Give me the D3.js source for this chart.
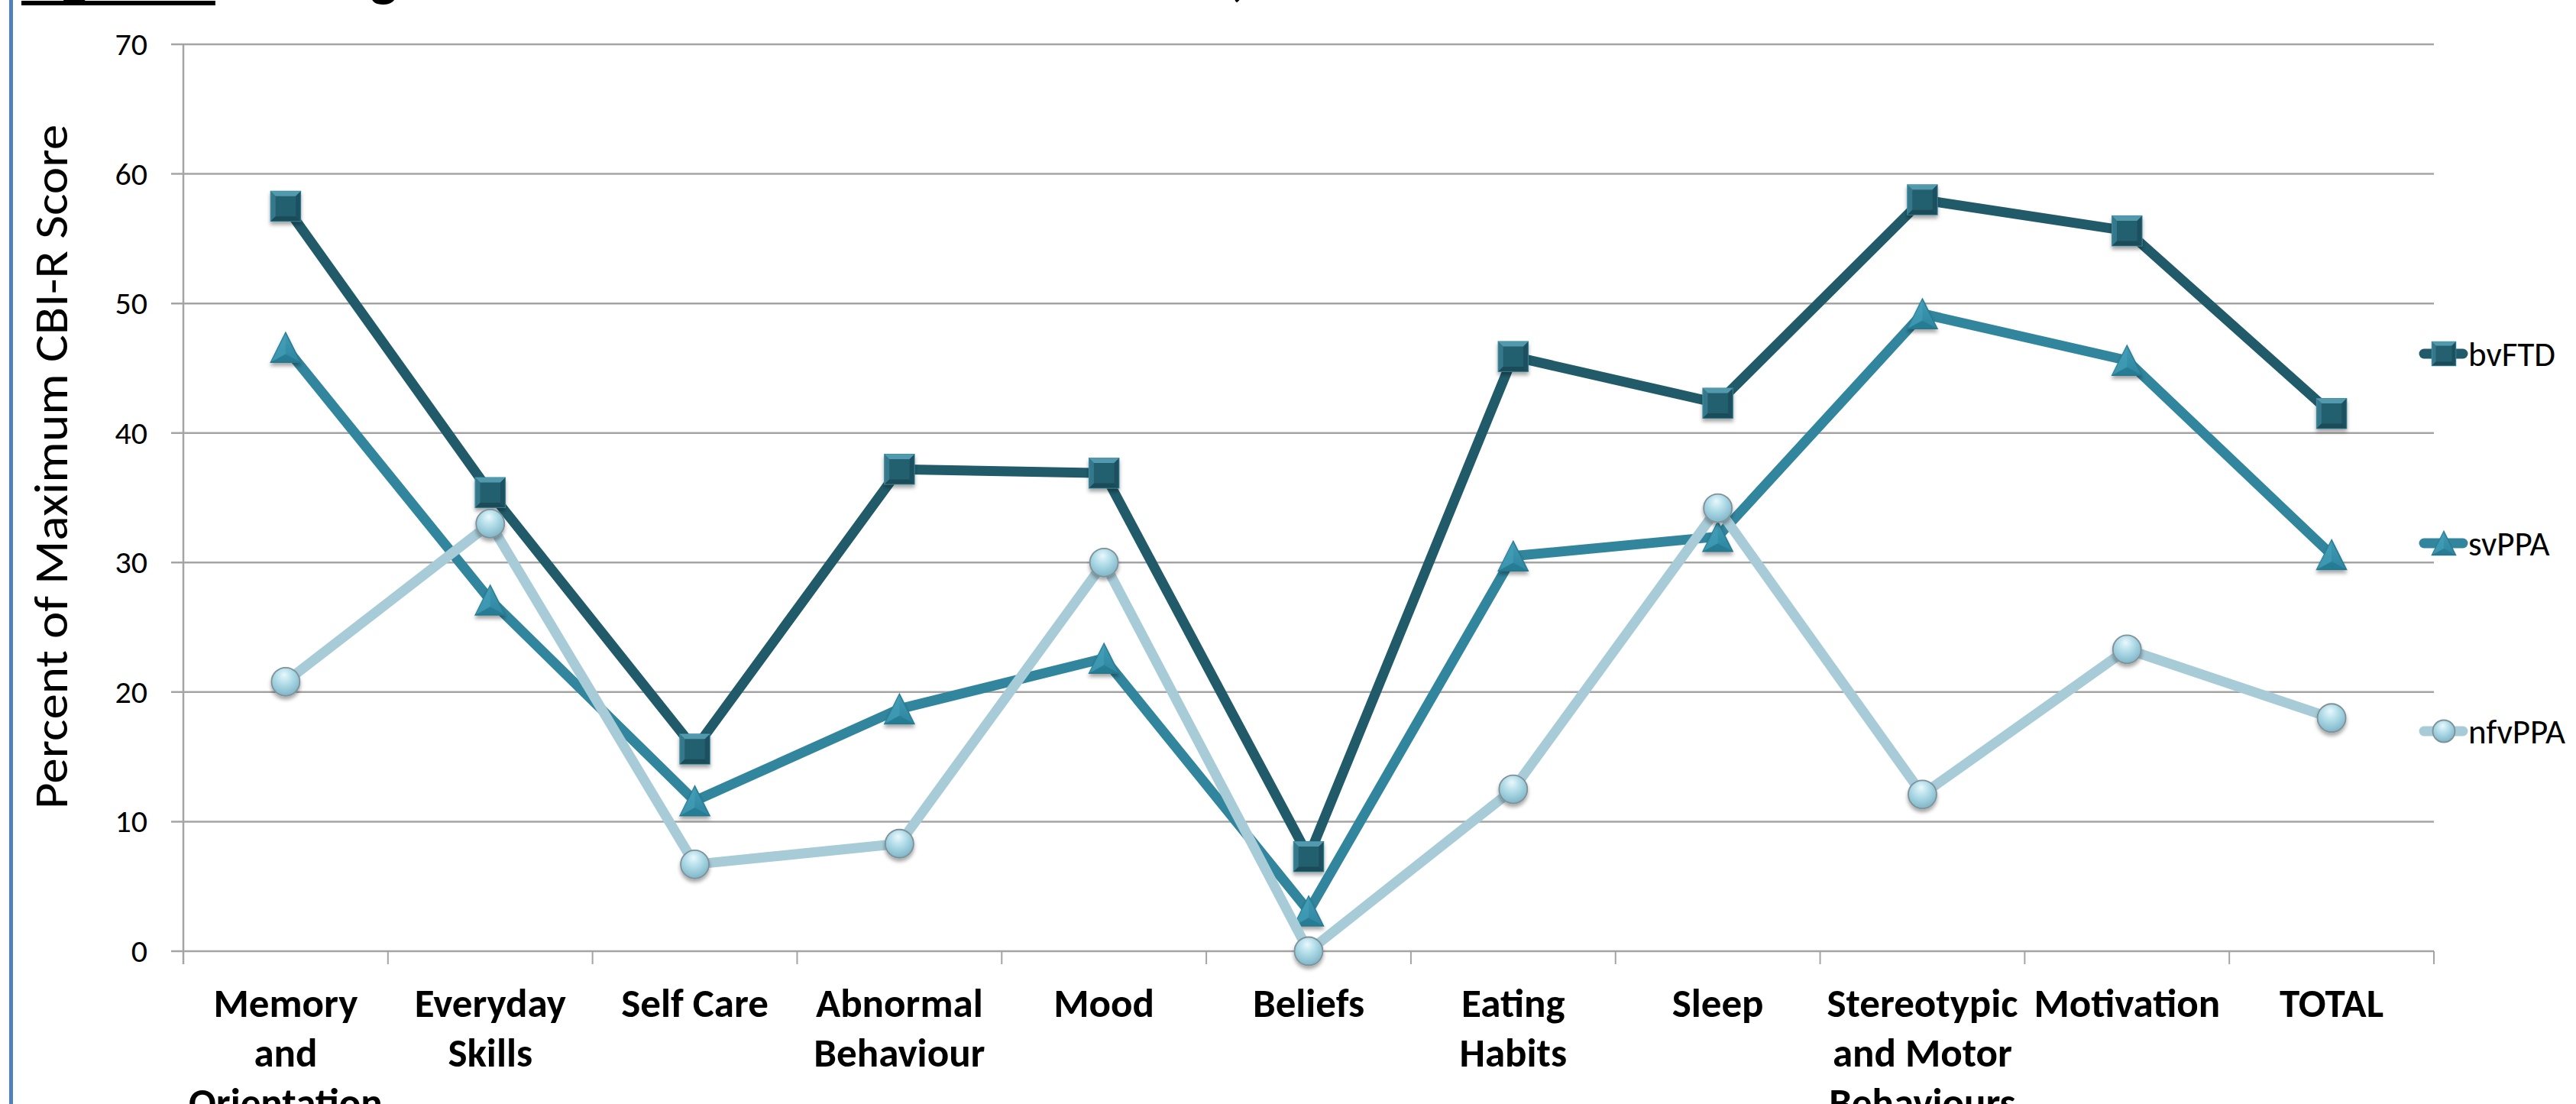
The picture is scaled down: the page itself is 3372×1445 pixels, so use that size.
<!DOCTYPE html>
<html>
<head>
<meta charset="utf-8">
<script src="https://cdn.jsdelivr.net/npm/d3@7"></script>
<style>
  html, body { margin: 0; padding: 0; background: #ffffff; }
  svg { display: block; }
  text { font-family: Carlito, Calibri, Lato, "Noto Sans", sans-serif; fill: #000; }
</style>
</head>
<body>
<svg id="chart" width="3372" height="1445"></svg>
<script>
// CBI-R domains and the percent of the maximum score reached by each group
const categories = [
  "Memory and Orientation", "Everyday Skills", "Self Care", "Abnormal Behaviour",
  "Mood", "Beliefs", "Eating Habits", "Sleep",
  "Stereotypic and Motor Behaviours", "Motivation", "TOTAL"
];
const categoryLines = [
  ["Memory", "and", "Orientation"], ["Everyday", "Skills"], ["Self Care"],
  ["Abnormal", "Behaviour"], ["Mood"], ["Beliefs"], ["Eating", "Habits"],
  ["Sleep"], ["Stereotypic", "and Motor", "Behaviours"], ["Motivation"], ["TOTAL"]
];
const seriesNames = ["bvFTD", "svPPA", "nfvPPA"];
const bvFTD  = [57.5, 35.4, 15.6, 37.2, 36.9, 7.3, 45.9, 42.3, 58.0, 55.6, 41.5];
const svPPA  = [46.6, 27.1, 11.6, 18.7, 22.6, 3.1, 30.5, 32.0, 49.2, 45.6, 30.6];
const nfvPPA = [20.8, 33.0, 6.7, 8.3, 30.0, 0.0, 12.5, 34.2, 12.1, 23.3, 18.0];
const yTicks = [0, 10, 20, 30, 40, 50, 60, 70];
const titleLead = "Figure 1";
const titleRest = ": Average Percent of Maximum CBI-R Scores, Each Domain";
const yTitle = "Percent of Maximum CBI-R Score";

const seriesValues = [bvFTD, svPPA, nfvPPA];
const seriesStyle = [
  { line: "#215B6A", marker: "square" },
  { line: "#31869D", marker: "triangle" },
  { line: "#A7CCD8", marker: "circle" }
];

const svg = d3.select("#chart");
const defs = svg.append("defs");

// soft shadow under each marker
const shadow = defs.append("filter").attr("id", "mshadow")
  .attr("x", "-50%").attr("y", "-50%").attr("width", "200%").attr("height", "200%");
shadow.append("feDropShadow").attr("dx", 0).attr("dy", 4).attr("stdDeviation", 2.5)
  .attr("flood-color", "#000").attr("flood-opacity", 0.35);

// glossy sphere for the circle marker
const sphere = defs.append("radialGradient").attr("id", "sphere")
  .attr("cx", "45%").attr("cy", "35%").attr("r", "65%").attr("fx", "45%").attr("fy", "25%");
sphere.append("stop").attr("offset", "0%").attr("stop-color", "#eaf8fc");
sphere.append("stop").attr("offset", "45%").attr("stop-color", "#b2dde9");
sphere.append("stop").attr("offset", "100%").attr("stop-color", "#7fb6c8");

const triGrad = defs.append("linearGradient").attr("id", "triGrad")
  .attr("x1", 0).attr("y1", 0).attr("x2", 0).attr("y2", 1);
triGrad.append("stop").attr("offset", "0%").attr("stop-color", "#3f9ab3");
triGrad.append("stop").attr("offset", "100%").attr("stop-color", "#2e86a0");

// plot frame
const plotLeft = 240, plotRight = 3186, plotTop = 58, plotBottom = 1245;

const x = d3.scaleBand().domain(categories).range([plotLeft, plotRight]).padding(0);
const y = d3.scaleLinear().domain([0, 70]).range([plotBottom, plotTop]);
const cx = c => x(c) + x.bandwidth() / 2;

// left page border
svg.append("rect").attr("x", 12).attr("y", 0).attr("width", 5).attr("height", 1445).attr("fill", "#4F81BD");

// title (runs off the top edge of the page)
const title = svg.append("text").attr("x", 28).attr("y", -7)
  .attr("font-size", 74).attr("font-weight", 700);
const lead = title.append("tspan").text(titleLead);
title.append("tspan").text(titleRest);
const leadLen = lead.node().getComputedTextLength();
svg.append("rect").attr("x", 28).attr("y", 1).attr("width", leadLen + 10).attr("height", 6).attr("fill", "#000");

// horizontal gridlines
svg.append("g").selectAll("line").data(yTicks).join("line")
  .attr("x1", plotLeft - 16).attr("x2", plotRight)
  .attr("y1", d => y(d)).attr("y2", d => y(d))
  .attr("stroke", "#a4a4a4").attr("stroke-width", 2.5);

// y axis labels
const yAxis = svg.append("g").attr("transform", `translate(${plotLeft},0)`)
  .call(d3.axisLeft(y).tickValues(yTicks).tickSize(0).tickPadding(47));
yAxis.select(".domain").remove();
yAxis.selectAll("text").attr("font-size", 42)
  .attr("font-family", "Carlito, Calibri, Lato, sans-serif").attr("fill", "#000");

// vertical axis line
svg.append("line").attr("x1", plotLeft).attr("x2", plotLeft)
  .attr("y1", plotTop).attr("y2", plotBottom + 17)
  .attr("stroke", "#a4a4a4").attr("stroke-width", 2.5);

// category tick marks at band edges
const edges = categories.map(c => x(c)).concat([plotRight]);
svg.append("g").selectAll("line").data(edges.slice(1)).join("line")
  .attr("x1", d => d).attr("x2", d => d)
  .attr("y1", plotBottom).attr("y2", plotBottom + 17)
  .attr("stroke", "#a4a4a4").attr("stroke-width", 2);

// category labels
const xLabels = svg.append("g").selectAll("text").data(categories).join("text")
  .attr("x", d => cx(d)).attr("y", 1331)
  .attr("text-anchor", "middle").attr("font-size", 53).attr("font-weight", 700);
xLabels.each(function (d, i) {
  d3.select(this).selectAll("tspan").data(categoryLines[i]).join("tspan")
    .attr("x", cx(d)).attr("dy", (t, j) => j === 0 ? 0 : 65).text(t => t);
});

// y axis title
svg.append("text")
  .attr("transform", `translate(88,611) rotate(-90)`)
  .attr("text-anchor", "middle").attr("font-size", 62)
  .attr("textLength", 896).attr("lengthAdjust", "spacingAndGlyphs")
  .text(yTitle);

// marker drawing
function drawMarker(g, kind, size) {
  const h = size / 2;
  if (kind === "square") {
    g.append("rect").attr("x", -h).attr("y", -h).attr("width", size).attr("height", size)
      .attr("fill", "#24606F").attr("stroke", "#3a8aa0").attr("stroke-width", 1.5);
    const b = size * 0.16;
    g.append("path").attr("d", `M${-h},${-h}L${h},${-h}L${h - b},${-h + b}L${-h + b},${-h + b}Z`)
      .attr("fill", "#5aa3b8").attr("opacity", 0.85);
    g.append("path").attr("d", `M${-h},${-h}L${-h + b},${-h + b}L${-h + b},${h - b}L${-h},${h}Z`)
      .attr("fill", "#3d8397").attr("opacity", 0.7);
    g.append("path").attr("d", `M${h},${-h}L${h},${h}L${h - b},${h - b}L${h - b},${-h + b}Z`)
      .attr("fill", "#1b4a57").attr("opacity", 0.7);
    g.append("path").attr("d", `M${-h},${h}L${h},${h}L${h - b},${h - b}L${-h + b},${h - b}Z`)
      .attr("fill", "#1a4653").attr("opacity", 0.8);
  } else if (kind === "triangle") {
    g.append("path").attr("d", `M0,${-h}L${h},${h}L${-h},${h}Z`)
      .attr("fill", "url(#triGrad)").attr("stroke", "#2a7a90").attr("stroke-width", 1.5);
    g.append("path").attr("d", `M0,${-h}L0,${h * 0.45}L${-h},${h}Z`)
      .attr("fill", "#4aa6be").attr("opacity", 0.45);
    g.append("path").attr("d", `M${-h},${h}L0,${h * 0.45}L${h},${h}Z`)
      .attr("fill", "#1f6f85").attr("opacity", 0.5);
  } else {
    g.append("circle").attr("r", h)
      .attr("fill", "url(#sphere)").attr("stroke", "#7f9198").attr("stroke-width", 1.8);
  }
}

// series lines and markers
const line = d3.line().x((v, i) => cx(categories[i])).y(v => y(v));
seriesValues.forEach((vals, s) => {
  const g = svg.append("g");
  g.append("path").datum(vals).attr("d", line)
    .attr("fill", "none").attr("stroke", seriesStyle[s].line)
    .attr("stroke-width", 13).attr("stroke-linejoin", "round");
  vals.forEach((v, i) => {
    const m = g.append("g").attr("transform", `translate(${cx(categories[i])},${y(v)})`)
      .attr("filter", "url(#mshadow)");
    drawMarker(m, seriesStyle[s].marker, seriesStyle[s].marker === "circle" ? 37 : 39);
  });
});

// legend
const legendY = [463, 711, 957];
seriesNames.forEach((name, s) => {
  const g = svg.append("g").attr("transform", `translate(0,${legendY[s]})`);
  g.append("line").attr("x1", 3173).attr("x2", 3224).attr("y1", 0).attr("y2", 0)
    .attr("stroke", seriesStyle[s].line).attr("stroke-width", 13).attr("stroke-linecap", "round");
  const m = g.append("g").attr("transform", "translate(3199,0)");
  drawMarker(m, seriesStyle[s].marker, seriesStyle[s].marker === "circle" ? 29 : 31);
  g.append("text").attr("x", 3231).attr("y", 16).attr("font-size", 45).text(name);
});
</script>
</body>
</html>
